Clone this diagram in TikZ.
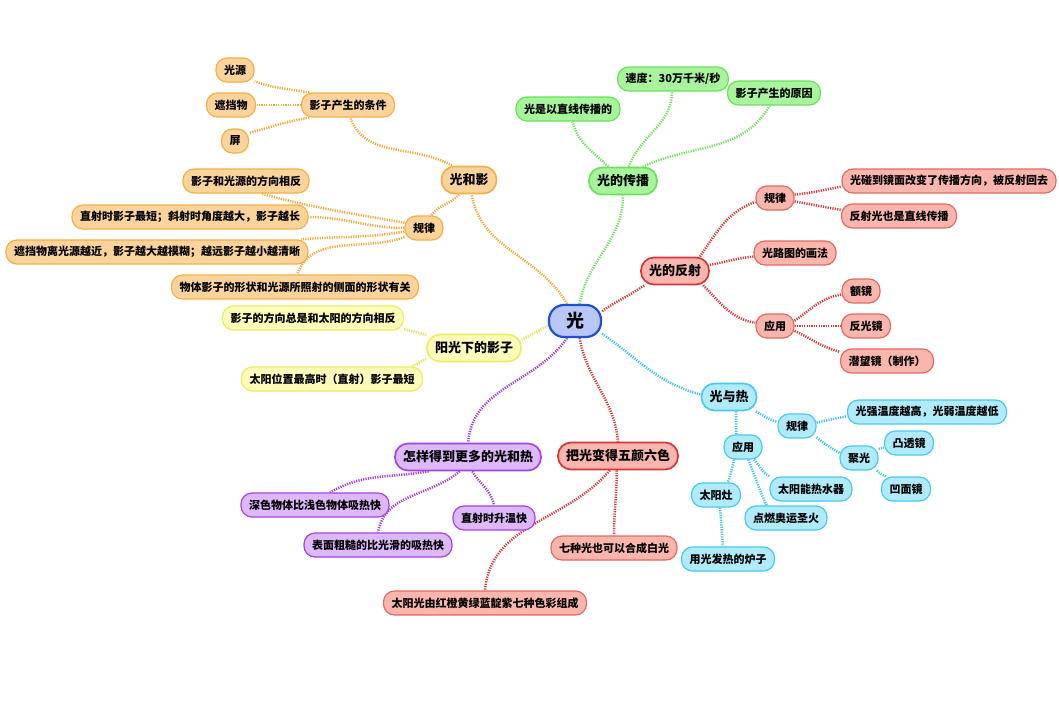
\documentclass[tikz,border=0pt]{standalone}
\usepackage{fontspec}
\setmainfont{Noto Sans CJK SC}
\usetikzlibrary{backgrounds}
\definecolor{oF}{HTML}{FCD49B}
\definecolor{oD}{HTML}{F2B04A}
\definecolor{oL}{HTML}{F0AA40}
\definecolor{gF}{HTML}{A8F49C}
\definecolor{gD}{HTML}{6CE05C}
\definecolor{gL}{HTML}{74E062}
\definecolor{rF}{HTML}{FAB6AD}
\definecolor{rD}{HTML}{D8333A}
\definecolor{rE}{HTML}{E26A66}
\definecolor{rL}{HTML}{D63A3A}
\definecolor{yF}{HTML}{FDFDB9}
\definecolor{yD}{HTML}{ECEC60}
\definecolor{yL}{HTML}{E6E650}
\definecolor{pF}{HTML}{DDB8FA}
\definecolor{pD}{HTML}{A444E4}
\definecolor{pL}{HTML}{A13FDE}
\definecolor{cF}{HTML}{AFEBFA}
\definecolor{cD}{HTML}{4CC8EA}
\definecolor{cL}{HTML}{40C4EA}
\definecolor{bF}{HTML}{B9C7F8}
\definecolor{bD}{HTML}{1F4FD8}
\begin{document}
\begin{tikzpicture}[x=1pt,y=1pt,box/.style={rectangle,rounded corners=11pt,minimum height=24pt,inner xsep=8pt,inner ysep=2pt,line width=1.2pt,font=\bfseries\fontsize{11}{13}\selectfont},topic/.style={box,rounded corners=13pt,minimum height=27pt,line width=1.7pt,font=\bfseries\fontsize{13}{15}\selectfont},root/.style={rectangle,rounded corners=15pt,minimum width=52pt,minimum height=32pt,line width=2.2pt,fill=bF,draw=bD,font=\bfseries\fontsize{18}{20}\selectfont},link/.style={line width=2.5pt,dash pattern=on 1.2pt off 1.2pt},leafO/.style={box,fill=oF,draw=oD},topicO/.style={topic,fill=oF,draw=oD},linkO/.style={link,draw=oL},leafG/.style={box,fill=gF,draw=gD},topicG/.style={topic,fill=gF,draw=gD},linkG/.style={link,draw=gL},leafR/.style={box,fill=rF,draw=rE},topicR/.style={topic,fill=rF,draw=rD},linkR/.style={link,draw=rL},leafY/.style={box,fill=yF,draw=yD},topicY/.style={topic,fill=yF,draw=yD},linkY/.style={link,draw=yL},leafP/.style={box,fill=pF,draw=pD},topicP/.style={topic,fill=pF,draw=pD},linkP/.style={link,draw=pL},leafC/.style={box,fill=cF,draw=cD},topicC/.style={topic,fill=cF,draw=cD},linkC/.style={link,draw=cL}]
\useasboundingbox (0,0) rectangle (1059,-720);

\node[root] (guang) at (575,-321) {光};

\node[topicO] (yingT) at (469,-180) {光和影};
\node[leafO] (tiaojian) at (348,-105) {影子产生的条件};
\node[leafO] (yuan) at (235,-70) {光源};
\node[leafO] (zhe) at (231,-105) {遮挡物};
\node[leafO] (ping) at (235,-141) {屏};
\node[leafO] (guilvO) at (424,-228) {规律};
\node[leafO] (o1) at (246,-181) {影子和光源的方向相反};
\node[leafO] (o2) at (190,-217) {直射时影子最短；斜射时角度越大，影子越长};
\node[leafO] (o3) at (157,-252) {遮挡物离光源越近，影子越大越模糊；越远影子越小越清晰};
\node[leafO] (o4) at (295,-287) {物体影子的形状和光源所照射的侧面的形状有关};

\node[topicG] (chuanT) at (623,-181) {光的传播};
\node[leafG] (g1) at (568,-109) {光是以直线传播的};
\node[leafG] (g2) at (673,-79) {速度：30万千米/秒};
\node[leafG] (g3) at (774,-93) {影子产生的原因};

\node[topicR] (fanT) at (675,-271) {光的反射};
\node[leafR] (guilvR) at (775,-198) {规律};
\node[leafR] (r1) at (949,-181) {光碰到镜面改变了传播方向，被反射回去};
\node[leafR] (r2) at (899,-216) {反射光也是直线传播};
\node[leafR] (r3) at (795,-253) {光路图的画法};
\node[leafR] (yingyongR) at (775,-326) {应用};
\node[leafR] (r4) at (861,-291) {额镜};
\node[leafR] (r5) at (866,-326) {反光镜};
\node[leafR] (r6) at (887,-361) {潜望镜（制作）};

\node[topicY] (yangT) at (474,-348) {阳光下的影子};
\node[leafY] (y1) at (313,-318) {影子的方向总是和太阳的方向相反};
\node[leafY] (y2) at (332,-379) {太阳位置最高时（直射）影子最短};

\node[topicP] (zenT) at (468,-457) {怎样得到更多的光和热};
\node[leafP] (p1) at (315,-505) {深色物体比浅色物体吸热快};
\node[leafP] (p2) at (494,-518) {直射时升温快};
\node[leafP] (p3) at (378,-545) {表面粗糙的比光滑的吸热快};

\node[topicR] (caiT) at (618,-456) {把光变得五颜六色};
\node[leafR] (q1) at (614,-548) {七种光也可以合成白光};
\node[leafR] (q2) at (485,-603) {太阳光由红橙黄绿蓝靛紫七种色彩组成};

\node[topicC] (reT) at (729,-397) {光与热};
\node[leafC] (guilvC) at (797,-426) {规律};
\node[leafC] (c1) at (927,-412) {光强温度越高，光弱温度越低};
\node[leafC] (juguang) at (859,-458) {聚光};
\node[leafC] (c2) at (909,-443) {凸透镜};
\node[leafC] (c3) at (906,-489) {凹面镜};
\node[leafC] (yingyongC) at (743,-447) {应用};
\node[leafC] (shuiqi) at (811,-489) {太阳能热水器};
\node[leafC] (zao) at (716,-495) {太阳灶};
\node[leafC] (dianran) at (786,-518) {点燃奥运圣火};
\node[leafC] (luzi) at (728,-559) {用光发热的炉子};

\begin{scope}[on background layer]
\fill[white] (0,0) rectangle (1059,-720);
\draw[linkO] (guang.115) to[out=120,in=-80] (yingT.-80);
\draw[linkG] (guang.75) to[out=80,in=-90] (chuanT.south);
\draw[linkR] (guang.20) to[out=35,in=215] (fanT.205);
\draw[linkY] (guang.190) to[out=205,in=25] (yangT.10);
\draw[linkP] (guang.-115) to[out=-125,in=85] (zenT.north);
\draw[linkR] (guang.-75) to[out=-80,in=95] (caiT.north);
\draw[linkC] (guang.-25) to[out=-35,in=165] (reT.175);

\draw[linkO] (yingT.140) to[out=150,in=-70] (tiaojian.-80);
\draw[linkO] (tiaojian.162) to[out=170,in=-20] (yuan.-30);
\draw[linkO] (tiaojian.west) to (zhe.east);
\draw[linkO] (tiaojian.198) to[out=190,in=15] (ping.30);
\draw[linkO] (yingT.-125) to[out=-130,in=55] (guilvO.60);
\draw[linkO] (guilvO.165) to[out=170,in=-15] (o1.-40);
\draw[linkO] (guilvO.180) to[out=180,in=0] (o2.east);
\draw[linkO] (guilvO.190) to[out=190,in=5] (o3.5);
\draw[linkO] (guilvO.205) to[out=200,in=70] (o4.80);

\draw[linkG] (chuanT.136) to[out=135,in=-75] (g1.-71);
\draw[linkG] (chuanT.68) to[out=70,in=-90] (g2.-95);
\draw[linkG] (chuanT.36) to[out=25,in=-120] (g3.-109);

\draw[linkR] (fanT.30) to[out=55,in=200] (guilvR.191);
\draw[linkR] (guilvR.10) to[out=5,in=190] (r1.183);
\draw[linkR] (guilvR.-10) to[out=-10,in=170] (r2.174);
\draw[linkR] (fanT.10) to[out=10,in=185] (r3.185);
\draw[linkR] (fanT.-27) to[out=-45,in=170] (yingyongR.171);
\draw[linkR] (yingyongR.15) to[out=35,in=190] (r4.190);
\draw[linkR] (yingyongR.east) to (r5.west);
\draw[linkR] (yingyongR.-14) to[out=-25,in=165] (r6.169);

\draw[linkY] (yangT.165) to[out=160,in=-15] (y1.-7);
\draw[linkY] (yangT.193) to[out=200,in=20] (y2.9);

\draw[linkP] (zenT.-160) to[out=190,in=30] (p1.40);
\draw[linkP] (zenT.-120) to[out=-140,in=80] (p3.north);
\draw[linkP] (zenT.-73) to[out=-60,in=100] (p2.north);

\draw[linkR] (caiT.-95) to[out=-90,in=90] (q1.north);
\draw[linkR] (caiT.-120) to[out=-130,in=85] (q2.north);

\draw[linkC] (reT.-28) to[out=-30,in=165] (guilvC.168);
\draw[linkC] (guilvC.10) to (c1.183);
\draw[linkC] (guilvC.-30) to[out=-40,in=150] (juguang.165);
\draw[linkC] (juguang.25) to (c2.190);
\draw[linkC] (juguang.-35) to[out=-50,in=150] (c3.148);
\draw[linkC] (reT.-64) to[out=-90,in=90] (yingyongC.118);
\draw[linkC] (yingyongC.-125) to[out=-105,in=70] (zao.47);
\draw[linkC] (yingyongC.-49) to[out=-45,in=155] (shuiqi.163);
\draw[linkC] (yingyongC.-67) to[out=-68,in=115] (dianran.147);
\draw[linkC] (zao.-72) to (luzi.112);
\end{scope}
\end{tikzpicture}
\end{document}
